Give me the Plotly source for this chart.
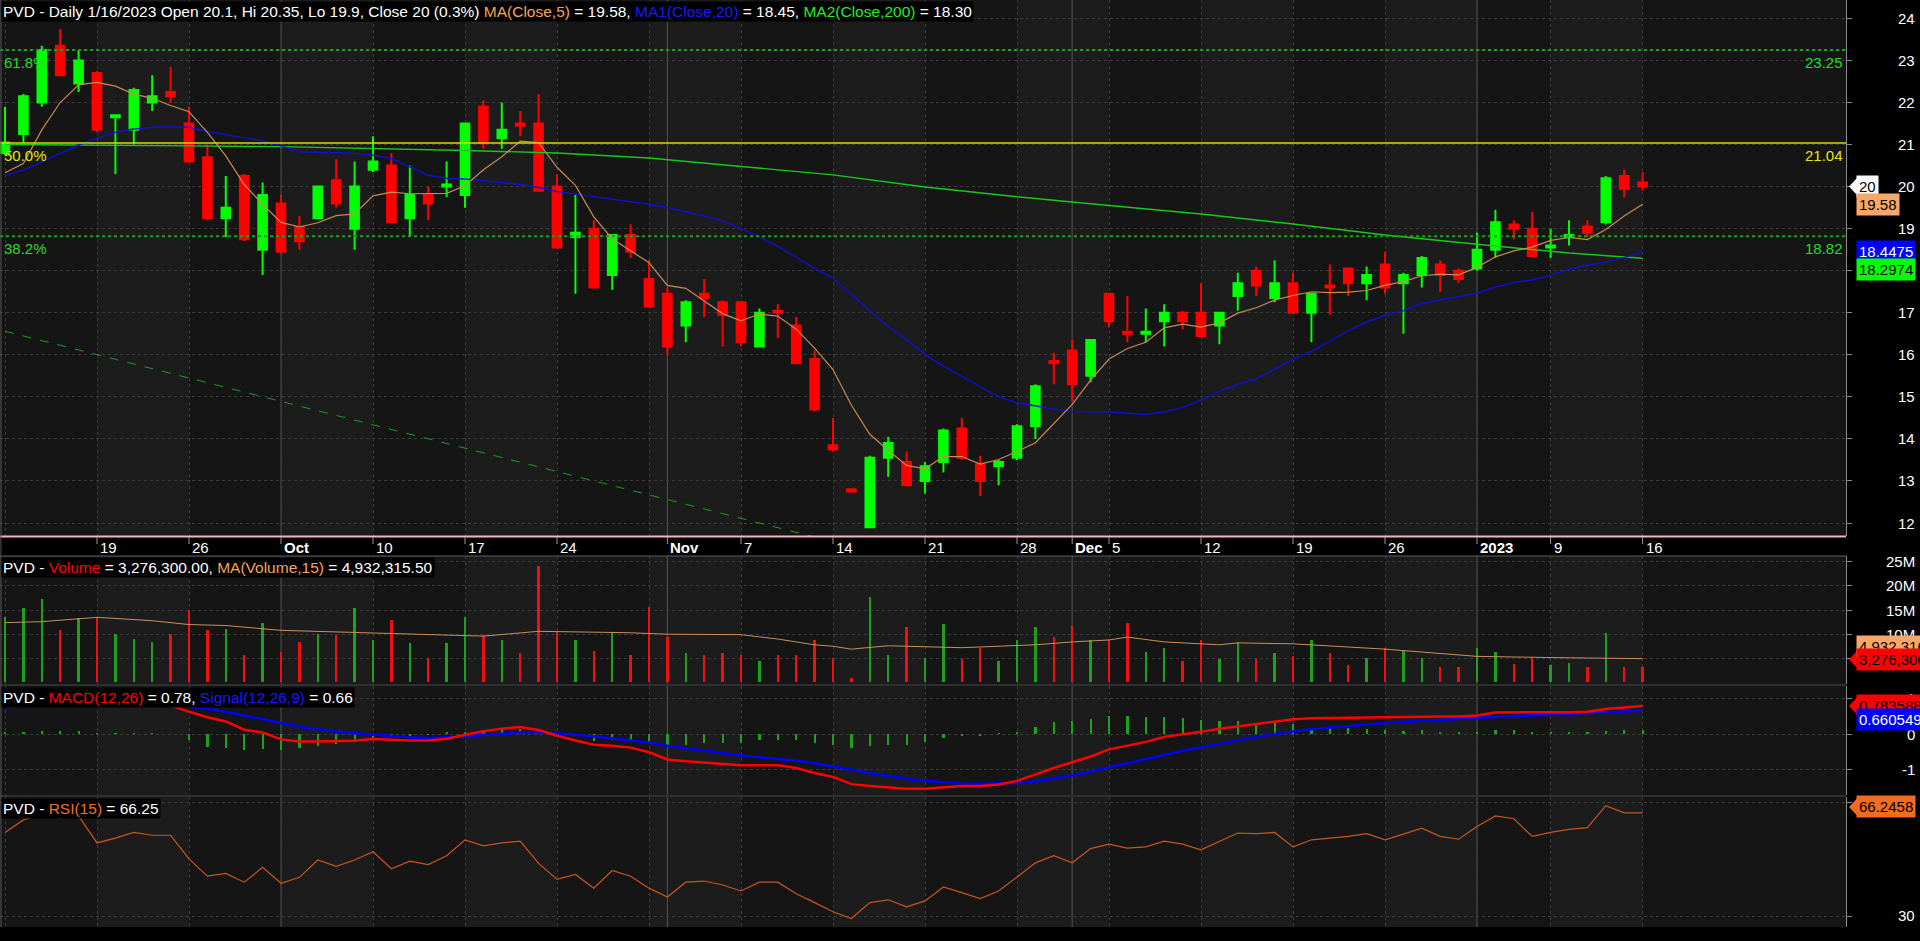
import plotly.graph_objects as go
import pandas as pd

# ---------------- data ----------------
dates = [d.strftime("%Y-%m-%d") for d in pd.bdate_range("2022-09-12", "2023-01-16")
         if d.strftime("%Y-%m-%d") != "2023-01-02"]

open_ = [20.8, 21.25, 22.0, 23.35, 22.45, 22.7, 21.65, 21.35, 22.0, 22.25,
         21.5, 20.7, 19.25, 20.25, 18.5, 19.6, 19.05, 19.25, 20.15, 19.0,
         20.4, 20.5, 19.25, 19.8, 20.0, 19.8, 21.9, 21.15, 21.5, 21.5,
         20.0, 18.8, 19.0, 17.9, 18.85, 17.8, 17.45, 16.7, 17.45, 17.25,
         17.25, 16.2, 17.05, 16.7, 15.9, 13.85, 12.8, 11.9, 13.55, 13.45,
         13.0, 13.45, 14.25, 13.4, 13.35, 13.55, 14.3, 15.85, 16.1, 15.5,
         17.45, 16.55, 16.5, 16.8, 17.0, 17.0, 16.7, 17.4, 18.0, 17.35,
         17.7, 17.0, 17.65, 18.05, 17.7, 18.15, 17.7, 17.9, 18.15, 18.0,
         18.05, 18.5, 19.1, 19.0, 18.55, 18.8, 19.05, 19.15, 20.25, 20.1]
high = [21.9, 22.2, 23.35, 23.75, 23.25, 22.75, 21.7, 22.35, 22.65, 22.85,
        21.9, 21.0, 20.25, 20.3, 20.1, 19.8, 19.3, 20.0, 20.65, 20.6,
        21.2, 20.8, 20.5, 20.0, 20.6, 21.5, 22.05, 22.0, 21.8, 22.2,
        20.3, 19.8, 19.2, 18.85, 19.1, 18.25, 17.6, 17.3, 17.8, 17.3,
        17.25, 17.1, 17.2, 16.9, 16.1, 14.5, 12.8, 13.6, 14.05, 13.7,
        13.45, 14.25, 14.5, 13.6, 13.5, 14.35, 15.3, 16.05, 16.35, 16.35,
        17.45, 17.4, 17.1, 17.2, 17.05, 17.7, 17.0, 17.95, 18.1, 18.25,
        17.95, 17.45, 18.15, 18.05, 18.1, 18.45, 17.95, 18.35, 18.25, 18.05,
        18.9, 19.45, 19.2, 19.4, 19.0, 19.2, 19.2, 20.25, 20.4, 20.35]
low = [20.75, 21.05, 21.9, 22.65, 22.25, 21.3, 20.3, 21.0, 21.8, 22.0,
       20.6, 19.2, 18.8, 18.7, 17.9, 18.4, 18.5, 19.25, 19.5, 18.5,
       20.35, 19.15, 18.8, 19.2, 19.75, 19.5, 20.9, 20.9, 21.2, 19.9,
       18.55, 17.45, 17.6, 17.55, 18.3, 17.15, 16.0, 16.3, 16.9, 16.2,
       16.2, 16.2, 16.4, 15.8, 14.65, 13.7, 12.75, 11.9, 13.1, 12.9,
       12.7, 13.2, 13.5, 12.65, 12.9, 13.5, 14.0, 15.3, 14.9, 15.35,
       16.65, 16.3, 16.3, 16.2, 16.6, 16.45, 16.25, 17.05, 17.4, 17.25,
       17.0, 16.3, 16.95, 17.4, 17.3, 17.45, 16.5, 17.6, 17.5, 17.7,
       18.0, 18.3, 18.75, 18.35, 18.3, 18.6, 18.8, 19.1, 19.75, 19.9]
close = [21.05, 22.15, 23.25, 22.65, 23.0, 21.35, 21.7, 22.3, 22.15, 22.15,
         20.6, 19.25, 19.5, 18.75, 19.8, 18.45, 18.7, 20.0, 19.6, 20.0,
         20.6, 19.15, 19.8, 19.6, 20.05, 21.5, 21.05, 21.35, 21.45, 19.9,
         18.55, 18.9, 17.6, 18.85, 18.45, 17.15, 16.2, 17.25, 17.35, 16.95,
         16.3, 17.0, 17.0, 15.8, 14.7, 13.75, 12.75, 13.55, 13.9, 12.9,
         13.35, 14.2, 13.55, 13.0, 13.45, 14.3, 15.25, 15.8, 15.3, 16.35,
         16.8, 16.5, 16.55, 17.0, 16.8, 16.45, 17.0, 17.7, 17.65, 17.7,
         17.0, 17.45, 17.6, 17.7, 17.9, 17.6, 17.9, 18.3, 17.9, 17.8,
         18.5, 19.15, 19.0, 18.35, 18.6, 18.85, 18.9, 20.2, 19.95, 20.0]

ma5 = [20.33, 20.55, 21.35, 22.0, 22.42, 22.48, 22.39, 22.2, 22.1, 21.93,
       21.78, 21.29, 20.73, 20.05, 19.58, 19.15, 19.04, 19.14, 19.31, 19.35,
       19.78, 19.87, 19.83, 19.83, 19.84, 20.02, 20.4, 20.71, 21.08, 21.05,
       20.46, 20.03, 19.28, 18.76, 18.47, 18.19, 17.65, 17.58, 17.28, 16.98,
       16.81, 16.97, 16.92, 16.61, 16.16, 15.65, 14.8, 14.11, 13.73, 13.37,
       13.29, 13.58, 13.58, 13.4, 13.51, 13.7, 13.91, 14.36, 14.82, 15.4,
       15.9, 16.15, 16.3, 16.64, 16.73, 16.66, 16.76, 16.99, 17.12, 17.3,
       17.41, 17.5, 17.48, 17.49, 17.53, 17.65, 17.74, 17.88, 17.92, 17.9,
       18.08, 18.33, 18.47, 18.56, 18.72, 18.79, 18.74, 18.98, 19.3, 19.58]
ma20 = [20.26, 20.39, 20.59, 20.79, 20.99, 21.15, 21.29, 21.37, 21.41, 21.42,
        21.41, 21.31, 21.23, 21.16, 21.09, 20.97, 20.83, 20.81, 20.81, 20.79,
        20.75, 20.67, 20.47, 20.27, 20.2, 20.18, 20.14, 20.1, 20.05, 19.98,
        19.88, 19.82, 19.76, 19.7, 19.64, 19.58, 19.5, 19.4, 19.3, 19.18,
        19.0, 18.8, 18.58, 18.32, 18.05, 17.82, 17.43, 17.05, 16.68, 16.36,
        16.01, 15.73, 15.49, 15.24, 15.0, 14.86, 14.78, 14.71, 14.65, 14.64,
        14.64, 14.61, 14.58, 14.64, 14.75, 14.92, 15.13, 15.3, 15.42, 15.66,
        15.9, 16.08, 16.32, 16.57, 16.78, 16.94, 17.05, 17.22, 17.31, 17.38,
        17.47, 17.61, 17.72, 17.78, 17.89, 18.03, 18.13, 18.21, 18.31, 18.4475]
ma200_idx = [0, 5, 10, 15, 20, 25, 30, 35, 40, 45, 50, 55, 60, 65, 70, 75, 80, 85, 89]
ma200_val = [21.0, 20.99, 20.97, 20.95, 20.91, 20.86, 20.8, 20.68, 20.48, 20.28,
             19.99, 19.76, 19.55, 19.35, 19.11, 18.85, 18.63, 18.42, 18.2974]

fib_levels = [23.25, 21.04, 18.82]
fib_names = ["61.8%", "50.0%", "38.2%"]
trend_idx = [0, 50]
trend_val = [16.56, 11.0]

volume_m = [13.5, 15.45, 17.3, 10.8, 13.3, 13.6, 10.1, 9.0, 8.4, 10.1,
            15.1, 10.8, 11.1, 5.7, 12.3, 6.3, 8.4, 10.0, 9.9, 15.45,
            8.8, 12.9, 8.2, 5.1, 8.2, 13.6, 9.9, 8.8, 6.2, 24.2,
            10.6, 8.8, 6.6, 10.2, 5.7, 15.7, 9.4, 6.2, 5.7, 6.0,
            5.7, 4.5, 5.7, 5.7, 8.8, 5.1, 0.9, 17.8, 5.7, 11.5,
            5.0, 12.1, 4.8, 7.2, 4.5, 8.8, 11.5, 9.4, 11.8, 8.8,
            8.8, 12.3, 6.3, 7.2, 4.5, 8.8, 4.8, 8.4, 4.8, 6.0,
            5.4, 8.8, 6.0, 3.6, 5.1, 7.2, 6.6, 5.0, 3.3, 3.2,
            7.2, 6.3, 3.8, 5.0, 3.6, 4.0, 3.3, 10.2, 3.2, 3.2763]
volma_idx = [0, 2, 5, 8, 10, 12, 15, 18, 20, 23, 26, 29, 31, 34, 36, 40, 42, 44, 45, 46,
             48, 52, 56, 58, 60, 61, 63, 66, 67, 70, 75, 80, 85, 89]
volma_val = [12.4, 12.6, 13.5, 12.8, 12.0, 11.8, 10.8, 10.5, 10.2, 10.0, 9.6, 10.6, 10.5, 10.3,
             10.0, 9.9, 9.0, 7.8, 7.5, 6.9, 7.6, 7.2, 7.8, 8.4, 8.8, 9.4, 8.4, 7.8, 8.2, 8.0,
             6.9, 5.4, 5.1, 4.932]

macd = [0.81, 0.86, 0.92, 0.97, 1.0, 0.98, 0.95, 0.93, 0.9, 0.8,
        0.62, 0.47, 0.35, 0.12, 0.04, -0.15, -0.21, -0.21, -0.21, -0.19,
        -0.14, -0.17, -0.18, -0.18, -0.13, -0.02, 0.08, 0.15, 0.195, 0.11,
        -0.05, -0.18, -0.3, -0.33, -0.38, -0.51, -0.71, -0.76, -0.79, -0.84,
        -0.87, -0.87, -0.87, -0.95, -1.09, -1.2, -1.4, -1.45, -1.5, -1.53,
        -1.53, -1.48, -1.45, -1.45, -1.41, -1.31, -1.12, -0.95, -0.79, -0.63,
        -0.43, -0.33, -0.22, -0.08, -0.02, 0.06, 0.145, 0.21, 0.28, 0.36,
        0.41, 0.44, 0.45, 0.46, 0.47, 0.47, 0.48, 0.49, 0.49, 0.49,
        0.52, 0.6, 0.61, 0.61, 0.61, 0.61, 0.62, 0.7, 0.75, 0.7836]
signal = [0.75, 0.79, 0.84, 0.88, 0.91, 0.93, 0.93, 0.92, 0.89, 0.83,
          0.78, 0.7, 0.62, 0.52, 0.43, 0.31, 0.2, 0.13, 0.07, 0.02,
          -0.02, -0.05, -0.09, -0.11, -0.1, -0.07, -0.03, 0.01, 0.04, 0.05,
          0.02, -0.02, -0.07, -0.12, -0.17, -0.24, -0.33, -0.4, -0.47, -0.54,
          -0.6, -0.65, -0.69, -0.75, -0.82, -0.9, -1.0, -1.09, -1.18, -1.25,
          -1.31, -1.35, -1.38, -1.39, -1.39, -1.37, -1.32, -1.25, -1.16, -1.05,
          -0.93, -0.81, -0.7, -0.58, -0.47, -0.37, -0.27, -0.17, -0.08, 0.0,
          0.07, 0.13, 0.18, 0.23, 0.27, 0.31, 0.34, 0.37, 0.39, 0.41,
          0.44, 0.47, 0.5, 0.52, 0.54, 0.56, 0.57, 0.6, 0.63, 0.6605]
hist = [0.06, 0.07, 0.08, 0.09, 0.09, 0.02, 0.01, 0.01, 0.01, 0.0,
        -0.17, -0.35, -0.38, -0.46, -0.43, -0.44, -0.4, -0.34, -0.28, -0.17,
        -0.1, -0.07, -0.05, -0.01, 0.05, 0.05, 0.06, 0.15, 0.15, 0.1,
        -0.02, -0.05, -0.2, -0.18, -0.18, -0.25, -0.33, -0.3, -0.26, -0.25,
        -0.25, -0.18, -0.16, -0.18, -0.25, -0.3, -0.38, -0.33, -0.3, -0.3,
        -0.21, -0.1, -0.05, -0.03, 0.01, 0.06, 0.2, 0.33, 0.36, 0.41,
        0.49, 0.49, 0.48, 0.48, 0.44, 0.39, 0.36, 0.37, 0.31, 0.36,
        0.28, 0.15, 0.2, 0.16, 0.15, 0.11, 0.08, 0.11, 0.07, 0.05,
        0.07, 0.11, 0.11, 0.07, 0.07, 0.03, 0.03, 0.08, 0.11, 0.12]
rsi = [59.4, 63.8, 66.0, 64.5, 65.2, 55.7, 57.4, 59.4, 58.4, 58.4,
       50.1, 44.0, 45.0, 41.9, 47.1, 41.5, 43.6, 49.7, 47.5, 49.7,
       52.6, 46.6, 49.3, 48.1, 51.2, 56.8, 54.7, 55.7, 56.3, 48.5,
       42.9, 44.6, 39.8, 46.0, 44.0, 39.8, 36.7, 41.9, 42.3, 40.9,
       38.8, 41.9, 41.9, 37.8, 34.7, 31.5, 29.1, 34.7, 35.7, 33.2,
       35.3, 40.2, 38.2, 36.1, 38.8, 43.6, 48.7, 51.2, 48.7, 53.7,
       55.3, 53.9, 54.3, 56.3, 55.3, 53.3, 56.3, 59.2, 59.0, 59.4,
       54.3, 56.8, 57.4, 58.0, 59.0, 56.8, 58.8, 60.9, 58.0, 57.0,
       61.5, 65.2, 64.2, 58.0, 59.4, 60.5, 61.1, 68.8, 66.3, 66.2458]

tick_dates = ["2022-09-19", "2022-09-26", "2022-10-03", "2022-10-10", "2022-10-17",
              "2022-10-24", "2022-11-01", "2022-11-07", "2022-11-14", "2022-11-21",
              "2022-11-28", "2022-12-01", "2022-12-05", "2022-12-12", "2022-12-19",
              "2022-12-26", "2023-01-03", "2023-01-09", "2023-01-16"]
tick_text = ["19", "26", "Oct", "10", "17", "24", "Nov", "7", "14", "21",
             "28", "Dec", "5", "12", "19", "26", "2023", "9", "16"]
month_text = {"Oct", "Nov", "Dec", "2023"}

# ---------------- geometry / style ----------------
FONT = "Liberation Sans, Arial, sans-serif"
W, H = 1920, 941
PW, PH = 1846, 927
BAR_PX, X0_PX = 18.4, 5.0
xs = list(range(len(dates)))
pos = {d: i for i, d in enumerate(dates)}
xr = [-X0_PX / BAR_PX, (PW - X0_PX) / BAR_PX]

panels = {1: (0, 536, [11.691, 24.438]),
          2: (556, 684, [-0.33, 26.22]),
          3: (686, 795, [-1.704, 1.341]),
          4: (797, 927, [26.13, 71.86])}
ygrid = {1: list(range(12, 25)), 2: [5, 10, 15, 20, 25], 3: [-1, 0, 1], 4: [30, 70]}
# tick labels that are visible in the reference (18 and 5M sit under value boxes there)
ylab = {1: [(v, str(v)) for v in range(12, 25) if v != 18],
        2: [(10, "10M"), (15, "15M"), (20, "20M"), (25, "25M")],
        3: [(1, "1"), (0, "0"), (-1, "-1")],
        4: [(70, "70"), (30, "30")]}


def px2paper(px):
    return 1 - px / PH


def v2px(n, v):
    top, bot, (r0, r1) = panels[n]
    return top + (r1 - v) / (r1 - r0) * (bot - top)


def ax(n, kind):
    return kind if n == 1 else f"{kind}{n}"


iso = [tuple(pd.Timestamp(d).isocalendar())[:2] for d in dates]
week_starts = [i for i in range(len(dates)) if i == 0 or iso[i] != iso[i - 1]]
month_starts = [i for i in range(1, len(dates)) if dates[i][:7] != dates[i - 1][:7]]

GREEN, RED = "#00ff00", "#ff0000"
GRID = "#3b3b3b"

fig = go.Figure()

# price panel
fig.add_trace(go.Scatter(x=trend_idx, y=trend_val, mode="lines",
                         line=dict(color="#239a23", width=1, dash="dash"), hoverinfo="skip"))
fig.add_trace(go.Scatter(x=ma200_idx, y=ma200_val, mode="lines",
                         line=dict(color="#18c818", width=1.4), hoverinfo="skip"))
fig.add_trace(go.Scatter(x=xs, y=ma20, mode="lines",
                         line=dict(color="#1010d8", width=1.4), hoverinfo="skip"))
fig.add_trace(go.Candlestick(x=xs, open=open_, high=high, low=low, close=close,
                             increasing=dict(line=dict(color=GREEN, width=2), fillcolor=GREEN),
                             decreasing=dict(line=dict(color=RED, width=2), fillcolor=RED),
                             whiskerwidth=0, hoverinfo="skip"))
fig.add_trace(go.Scatter(x=xs, y=ma5, mode="lines",
                         line=dict(color="#c88a52", width=1.2), hoverinfo="skip"))

# volume panel
vcol = ["#1f9f1f" if c >= o else "#f01010" for o, c in zip(open_, close)]
fig.add_trace(go.Bar(x=xs, y=volume_m, width=0.14, marker=dict(color=vcol, line=dict(width=0)),
                     xaxis="x2", yaxis="y2", hoverinfo="skip"))
fig.add_trace(go.Scatter(x=volma_idx, y=volma_val, mode="lines", line=dict(color="#c8905a", width=1),
                         xaxis="x2", yaxis="y2", hoverinfo="skip"))

# MACD panel
fig.add_trace(go.Bar(x=xs, y=hist, width=0.12, marker=dict(color="#20a020", line=dict(width=0)),
                     xaxis="x3", yaxis="y3", hoverinfo="skip"))
fig.add_trace(go.Scatter(x=xs, y=signal, mode="lines", line=dict(color="#0000ff", width=2.5),
                         xaxis="x3", yaxis="y3", hoverinfo="skip"))
fig.add_trace(go.Scatter(x=xs, y=macd, mode="lines", line=dict(color="#ff0000", width=2.5),
                         xaxis="x3", yaxis="y3", hoverinfo="skip"))

# RSI panel
fig.add_trace(go.Scatter(x=xs, y=rsi, mode="lines", line=dict(color="#c85520", width=1.2),
                         xaxis="x4", yaxis="y4", hoverinfo="skip"))

layout = dict(width=W, height=H, margin=dict(l=0, r=W - PW, t=0, b=H - PH),
              paper_bgcolor="#000000", plot_bgcolor="#151515", showlegend=False,
              boxgap=0.33, bargap=0, hovermode=False, font=dict(family=FONT, color="white"))
for n, (top, bot, rng) in panels.items():
    layout["xaxis" if n == 1 else f"xaxis{n}"] = dict(
        domain=[0, 1], range=xr, anchor=ax(n, "y"), tickvals=week_starts, showticklabels=False,
        ticks="", showgrid=True, gridcolor=GRID, griddash="dot", gridwidth=1, zeroline=False,
        showline=False, rangeslider=dict(visible=False), fixedrange=True,
        **({} if n == 1 else {"matches": "x"}))
    layout["yaxis" if n == 1 else f"yaxis{n}"] = dict(
        domain=[px2paper(bot), px2paper(top)], range=rng, side="right", anchor=ax(n, "x"),
        tickvals=ygrid[n], showticklabels=False, ticks="outside", ticklen=5, tickcolor="#8a8a8a",
        showgrid=True, gridcolor=GRID, griddash="dot", gridwidth=1, zeroline=False,
        showline=True, linecolor="#8a8a8a", linewidth=1, fixedrange=True)
fig.update_layout(**layout)

shapes = []
# weekly alternating bands + month lines for all panels
bounds = [xr[0]] + week_starts[1:] + [xr[1]]
for n in panels:
    for k in range(len(bounds) - 1):
        if k % 2 == 1:
            shapes.append(dict(type="rect", xref=ax(n, "x"), yref=ax(n, "y") + " domain",
                               x0=bounds[k], x1=bounds[k + 1], y0=0, y1=1, layer="below",
                               fillcolor="#1c1c1c", line=dict(width=0)))
    for m in month_starts:
        shapes.append(dict(type="line", xref=ax(n, "x"), yref=ax(n, "y") + " domain",
                           x0=m, x1=m, y0=0, y1=1, layer="below",
                           line=dict(color="#4a4a4a", width=1.2)))

# fibonacci lines
for lvl, nm in zip(fib_levels, fib_names):
    if nm == "50.0%":
        ln = dict(color="#d8d800", width=1.5)
    else:
        ln = dict(color="#1aa01a", width=2, dash="dot")
    shapes.append(dict(type="line", xref="x domain", yref="y", x0=0, x1=1, y0=lvl, y1=lvl, line=ln))

# panel separators / borders
shapes.append(dict(type="line", xref="paper", yref="paper", x0=0, x1=1,
                   y0=px2paper(536.5), y1=px2paper(536.5), line=dict(color="#f3b5c3", width=2)))
for py in (556, 685, 796):
    shapes.append(dict(type="line", xref="paper", yref="paper", x0=0, x1=1,
                       y0=px2paper(py), y1=px2paper(py), line=dict(color="#5f5f5f", width=1)))
shapes.append(dict(type="line", xref="paper", yref="paper", x0=0.0005, x1=0.0005, y0=0, y1=1,
                   line=dict(color="#555555", width=1)))
# x tick marks in label strip
for d in tick_dates:
    i = pos[d]
    shapes.append(dict(type="line", xref="x", yref="paper", x0=i, x1=i,
                       y0=px2paper(537), y1=px2paper(544), line=dict(color="#9a9a9a", width=1)))

annotations = []


def ann(**kw):
    base = dict(showarrow=False, font=dict(family=FONT, size=15, color="white"))
    base.update(kw)
    annotations.append(base)


# x tick labels
for d, t in zip(tick_dates, tick_text):
    ann(x=pos[d], xref="x", y=px2paper(547.5), yref="paper", xanchor="left", yanchor="middle",
        xshift=1, text=f"<b>{t}</b>" if t in month_text else t)

# y tick labels (right aligned)
for n, labs in ylab.items():
    for v, t in labs:
        ann(x=1917 / PW, xref="paper", y=px2paper(v2px(n, v)), yref="paper",
            xanchor="right", yanchor="middle", text=t)

# fib labels
fib_col = {"61.8%": "#22dd22", "50.0%": "#e8e800", "38.2%": "#22dd22"}
for lvl, nm in zip(fib_levels, fib_names):
    ann(x=0, xref="paper", y=lvl, yref="y", xanchor="left", yanchor="top", xshift=2, yshift=-2,
        text=nm, font=dict(family=FONT, size=15, color=fib_col[nm]))
    ann(x=1, xref="paper", y=lvl, yref="y", xanchor="right", yanchor="top", xshift=-1, yshift=-2,
        text=f"{lvl:.2f}", font=dict(family=FONT, size=15, color=fib_col[nm]))


# headers
def span(t, c):
    return f"<span style='color:{c}'>{t}</span>"


hdr_main = (f"PVD - Daily 1/16/2023 Open {open_[-1]:g}, Hi {high[-1]:g}, Lo {low[-1]:g}, "
            f"Close {close[-1]:g} (0.3%) " + span("MA(Close,5)", "#f7a55a") + f" = {ma5[-1]:.2f}, "
            + span("MA1(Close,20)", "#1a1aff") + f" = {ma20[-1]:.2f}, "
            + span("MA2(Close,200)", "#22ee22") + f" = {ma200_val[-1]:.2f}")
hdr_vol = ("PVD - " + span("Volume", "#ff0000") + f" = {volume_m[-1] * 1e6:,.2f}, "
           + span("MA(Volume,15)", "#f7a55a") + " = 4,932,315.50")
hdr_macd = ("PVD - " + span("MACD(12,26)", "#ff0000") + f" = {macd[-1]:.2f}, "
            + span("Signal(12,26,9)", "#1a1aff") + f" = {signal[-1]:.2f}")
hdr_rsi = "PVD - " + span("RSI(15)", "#f07020") + f" = {rsi[-1]:.2f}"
for txt, top in ((hdr_main, 1), (hdr_vol, 557), (hdr_macd, 687), (hdr_rsi, 797.5)):
    ann(x=0, xref="paper", y=px2paper(top), yref="paper", xanchor="left", yanchor="top",
        xshift=1, text=txt, bgcolor="#000000", borderpad=1,
        font=dict(family=FONT, size=15.5, color="white"))

# right-side value boxes: (panel, value, text, bg, fg, arrow, pixel offset)
boxes = [(1, close[-1], f"{close[-1]:g}", "#ffffff", "#000000", True, 0),
         (1, ma5[-1], f"{ma5[-1]:.2f}", "#f7a767", "#000000", False, 0),
         (1, ma20[-1], f"{ma20[-1]:.4f}", "#0000ff", "#ffffff", False, 0),
         (1, ma200_val[-1], f"{ma200_val[-1]:.4f}", "#00ff00", "#000000", False, 11),
         (2, volma_val[-1], "4,932,316", "#f7a767", "#000000", False, -12),
         (2, volume_m[-1], f"{volume_m[-1] * 1e6:,.0f}", "#ff0000", "#000000", True, -7),
         (3, macd[-1], "0.783588", "#ff0000", "#000000", True, 0),
         (3, signal[-1], "0.660549", "#0000ff", "#ffffff", False, 9),
         (4, rsi[-1], f"{rsi[-1]:.4f}", "#f26b21", "#000000", True, -6)]
BH = 15
for n, v, t, bg, fg, arrow, off in boxes:
    cy = v2px(n, v) + off
    ann(x=1856 / PW, xref="paper", y=px2paper(cy), yref="paper", xanchor="left", yanchor="middle",
        text=t, bgcolor=bg, borderpad=2, font=dict(family=FONT, size=15, color=fg))
    if arrow:
        shapes.append(dict(type="path", xref="paper", yref="paper",
                           path=(f"M {1849 / PW},{px2paper(cy)} L {1857 / PW},{px2paper(cy - BH / 2 - 1)} "
                                 f"L {1857 / PW},{px2paper(cy + BH / 2 + 1)} Z"),
                           fillcolor=bg, line=dict(width=0)))

fig.update_layout(shapes=shapes, annotations=annotations)

fig.write_html("out.html", config={"displayModeBar": False},
               post_script="document.body.style.margin='0';document.body.style.background='#000';")
